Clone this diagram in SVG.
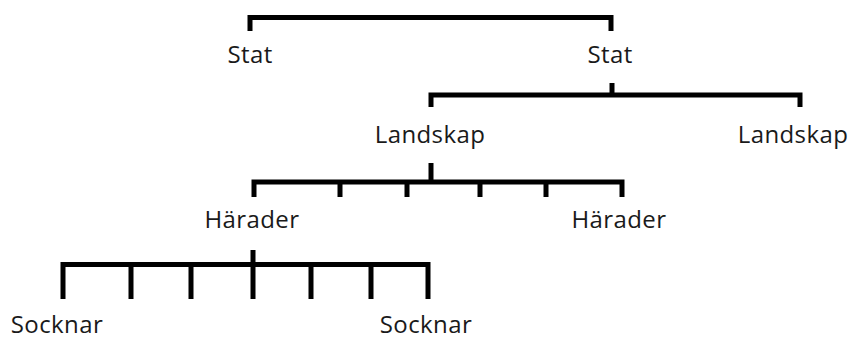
<svg xmlns="http://www.w3.org/2000/svg" width="850" height="340" viewBox="0 0 850 340">
<style>
.c{fill:none;stroke:#000;stroke-width:5;stroke-linejoin:miter;stroke-linecap:butt}
.t{font-family:"Open Sans","Noto Sans","Liberation Sans",sans-serif;font-size:24px;fill:#1a1a1a;text-anchor:middle;letter-spacing:0.4px}
</style>
<rect width="850" height="340" fill="#fff"/>
<g id="connectors">
<path class="c" d="M250 31V17.5H611V31"/>
<path class="c" d="M612 83V95"/>
<path class="c" d="M431 107V95H800V107"/>
<path class="c" d="M431 163V182"/>
<path class="c" d="M254 197V182H622V197M340 182V197M407 182V197M480 182V197M546 182V197"/>
<path class="c" d="M253 250V299"/>
<path class="c" d="M63 299V264.5H428V299M131 264.5V299M191 264.5V299M311 264.5V299M371 264.5V299"/>
</g>
<g id="stat1"><text class="t" x="250" y="63">Stat</text></g>
<g id="stat2"><text class="t" x="610" y="63">Stat</text></g>
<g id="landskap1"><text class="t" x="430" y="143">Landskap</text></g>
<g id="landskap2"><text class="t" x="793" y="143">Landskap</text></g>
<g id="harader1"><text class="t" x="252" y="228">Härader</text></g>
<g id="harader2"><text class="t" x="619" y="228">Härader</text></g>
<g id="socknar1"><text class="t" x="57" y="333">Socknar</text></g>
<g id="socknar2"><text class="t" x="426" y="333">Socknar</text></g>
</svg>
